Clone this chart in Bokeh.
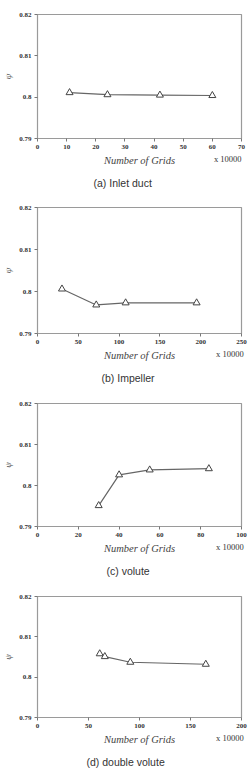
import math
from bokeh.plotting import figure
from bokeh.layouts import column
from bokeh.models import FixedTicker, LinearAxis, Range1d, Title
from bokeh.embed import file_html
from bokeh.resources import INLINE

# ---- data ----
grids_a = [11, 24, 42, 60]
psi_a = [0.8011, 0.8006, 0.8005, 0.8004]
grids_b = [30, 72, 108, 195]
psi_b = [0.8006, 0.7968, 0.7973, 0.7973]
grids_c = [30, 40, 55, 84]
psi_c = [0.7951, 0.8026, 0.8038, 0.8041]
grids_d = [61, 66, 91, 165]
psi_d = [0.8058, 0.8051, 0.8037, 0.8032]

xmax = [70, 250, 100, 200]
xstep = [10, 50, 20, 50]
y_ticks = [0.79, 0.80, 0.81, 0.82]
y_tick_labels = ["0.79", "0.8", "0.81", "0.82"]
captions = ["(a)  Inlet  duct", "(b)  Impeller", "(c)  volute", "(d)  double  volute"]
xlabel = "Number of Grids"
xunit = "x 10000"
ylabel = "\u03c8"

series = [(grids_a, psi_a), (grids_b, psi_b), (grids_c, psi_c), (grids_d, psi_d)]

# layout: (height, top, bottom, left, right, caption_left, unit_pad)
geo = [(194, 14, 56, 36, 6, 92, 83),
       (195, 13, 56, 33, 10, 97, 85),
       (193, 14, 56, 33, 10, 102, 85),
       (191, 14, 56, 33, 10, 82, 85)]

figs = []
for i, (xs, ys) in enumerate(series):
    h, bt, bb, bl, br, cl, pad = geo[i]
    p = figure(width=251, height=h, output_backend="svg", toolbar_location=None,
               x_range=Range1d(0, xmax[i]), y_range=Range1d(0.79, 0.82),
               min_border_top=bt, min_border_bottom=bb, min_border_left=bl, min_border_right=br)
    p.grid.visible = False
    p.outline_line_color = "#9a9a9a"
    p.outline_line_width = 1.2
    for ax in (p.xaxis[0], p.yaxis[0]):
        ax.axis_line_color = "#9a9a9a"
        ax.major_tick_line_color = "#777777"
        ax.major_tick_out = 3
        ax.major_tick_in = 0
        ax.minor_tick_line_color = None
        ax.major_label_text_font = "Liberation Serif"
        ax.major_label_text_font_style = "bold"
        ax.major_label_text_font_size = "7px"
        ax.major_label_text_color = "#333333"
        ax.major_label_standoff = 3
        ax.axis_label_text_font = "Liberation Serif"
        ax.axis_label_text_color = "#444444"
    p.xaxis.ticker = FixedTicker(ticks=list(range(0, xmax[i] + 1, xstep[i])))
    p.yaxis.ticker = FixedTicker(ticks=y_ticks)
    p.yaxis.major_label_overrides = {t: l for t, l in zip(y_ticks, y_tick_labels)}
    p.xaxis.axis_label = xlabel
    p.xaxis.axis_label_text_font_style = "italic"
    p.xaxis.axis_label_text_font_size = "10.5px"
    p.xaxis.axis_label_standoff = 3
    p.yaxis.axis_label = ylabel
    p.yaxis.axis_label_text_font_style = "italic"
    p.yaxis.axis_label_text_font_size = "9px"
    p.yaxis.axis_label_standoff = 3

    # unit text: centred label pushed right with leading no-break spaces
    unit_axis = LinearAxis(ticker=FixedTicker(ticks=[]), axis_line_color=None,
                           major_tick_line_color=None, minor_tick_line_color=None,
                           major_label_text_font_size="0px",
                           axis_label="\u00a0" * pad + xunit, axis_label_align="center",
                           axis_label_standoff=-15,
                           axis_label_text_font="Liberation Serif",
                           axis_label_text_font_style="normal",
                           axis_label_text_font_size="8.5px",
                           axis_label_text_color="#333333")
    p.add_layout(unit_axis, "below")

    p.line(xs, ys, line_color="#666666", line_width=1.2)
    p.scatter(xs, ys, marker="triangle", size=7, fill_color="white",
              line_color="#444444", line_width=1)

    p.add_layout(Title(text=captions[i], align="left", offset=cl - bl, standoff=12,
                       text_font="Liberation Sans", text_font_style="normal",
                       text_font_size="10.5px", text_color="#333333"), "below")
    figs.append(p)

layout = column(*figs, spacing=0)
open("out.html", "w").write(file_html(layout, INLINE))
